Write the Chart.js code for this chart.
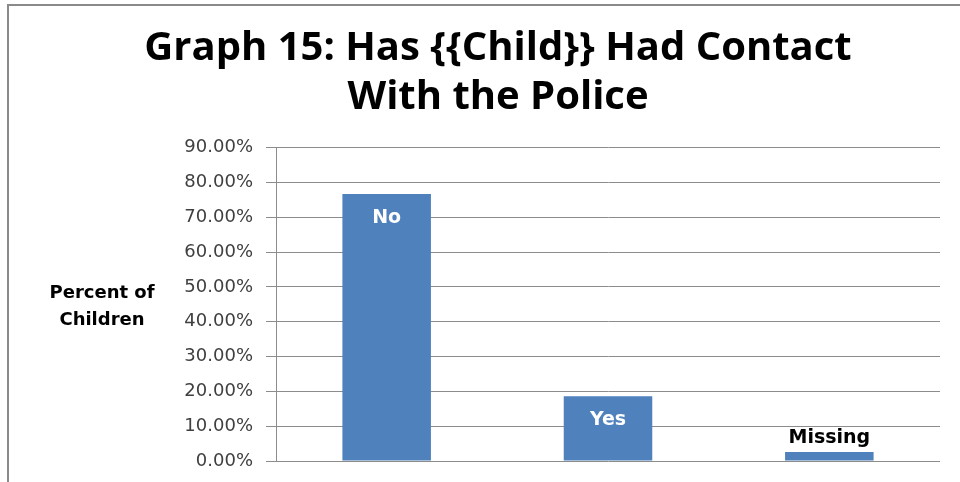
<!DOCTYPE html>
<html><head><meta charset="utf-8">
<script src="https://cdn.jsdelivr.net/npm/chart.js@4/dist/chart.umd.min.js"></script>
<style>html,body{margin:0;padding:0;background:#fff}#wrap{width:960px;height:482px}</style>
</head><body><div id="wrap"><canvas id="c" width="960" height="482"></canvas></div>
<script>
const categories = ["No", "Yes", "Missing"];
const percentValues = [76.7, 18.6, 2.6];
const titleLines = ["Graph 15: Has {{Child}} Had Contact", "With the Police"];
const axisTitleLines = ["Percent of", "Children"];

const frame = {
  id: 'frame',
  beforeDraw(chart) {
    const ctx = chart.ctx;
    ctx.save();
    ctx.fillStyle = '#fff';
    ctx.fillRect(0, 0, chart.width, chart.height);
    ctx.strokeStyle = '#8a8a8a';
    ctx.lineWidth = 2;
    ctx.beginPath();
    ctx.moveTo(8, chart.height);
    ctx.lineTo(8, 5);
    ctx.lineTo(chart.width, 5);
    ctx.stroke();
    ctx.restore();
  },
  afterDraw(chart) {
    const ctx = chart.ctx;
    ctx.save();
    ctx.font = 'bold 18px "DejaVu Sans"';
    ctx.fillStyle = '#000';
    ctx.textAlign = 'center';
    ctx.textBaseline = 'middle';
    ctx.fillText(axisTitleLines[0], 102, 293);
    ctx.fillText(axisTitleLines[1], 102, 320);
    const meta = chart.getDatasetMeta(0);
    meta.data.forEach((bar, i) => {
      const h = bar.base - bar.y;
      ctx.font = 'bold 19px "DejaVu Sans"';
      if (h > 40) {
        ctx.fillStyle = '#fff';
        ctx.fillText(categories[i], bar.x, bar.y + 24);
      } else {
        ctx.fillStyle = '#000';
        ctx.fillText(categories[i], bar.x, bar.y - 14);
      }
    });
    ctx.restore();
  }
};

new Chart(document.getElementById('c'), {
  type: 'bar',
  data: {
    labels: categories,
    datasets: [{
      data: percentValues,
      backgroundColor: '#4F81BD',
      borderWidth: 0,
      barPercentage: 0.4,
      categoryPercentage: 1.0
    }]
  },
  options: {
    responsive: false,
    animation: false,
    events: [],
    layout: { padding: { left: 56, right: 20, top: 0, bottom: 21 } },
    plugins: {
      legend: { display: false },
      tooltip: { enabled: false },
      title: {
        display: true,
        text: titleLines,
        color: '#000',
        font: { family: 'Open Sans', weight: 'bold', size: 40, lineHeight: 1.22 },
        padding: { top: 24, bottom: 26 }
      }
    },
    scales: {
      x: { display: false },
      y: {
        min: 0, max: 90,
        afterFit(scale) { scale.width = 220; scale.paddingBottom = 0; scale.paddingTop = 0; },
        ticks: {
          stepSize: 10,
          color: '#404040',
          font: { family: 'DejaVu Sans', size: 18 },
          padding: 13,
          callback: v => v.toFixed(2) + '%'
        },
        grid: { color: '#8c8c8c', lineWidth: 1, tickLength: 10 },
        border: { display: true, color: '#8c8c8c', width: 1 }
      }
    }
  },
  plugins: [frame]
});
</script></body></html>
